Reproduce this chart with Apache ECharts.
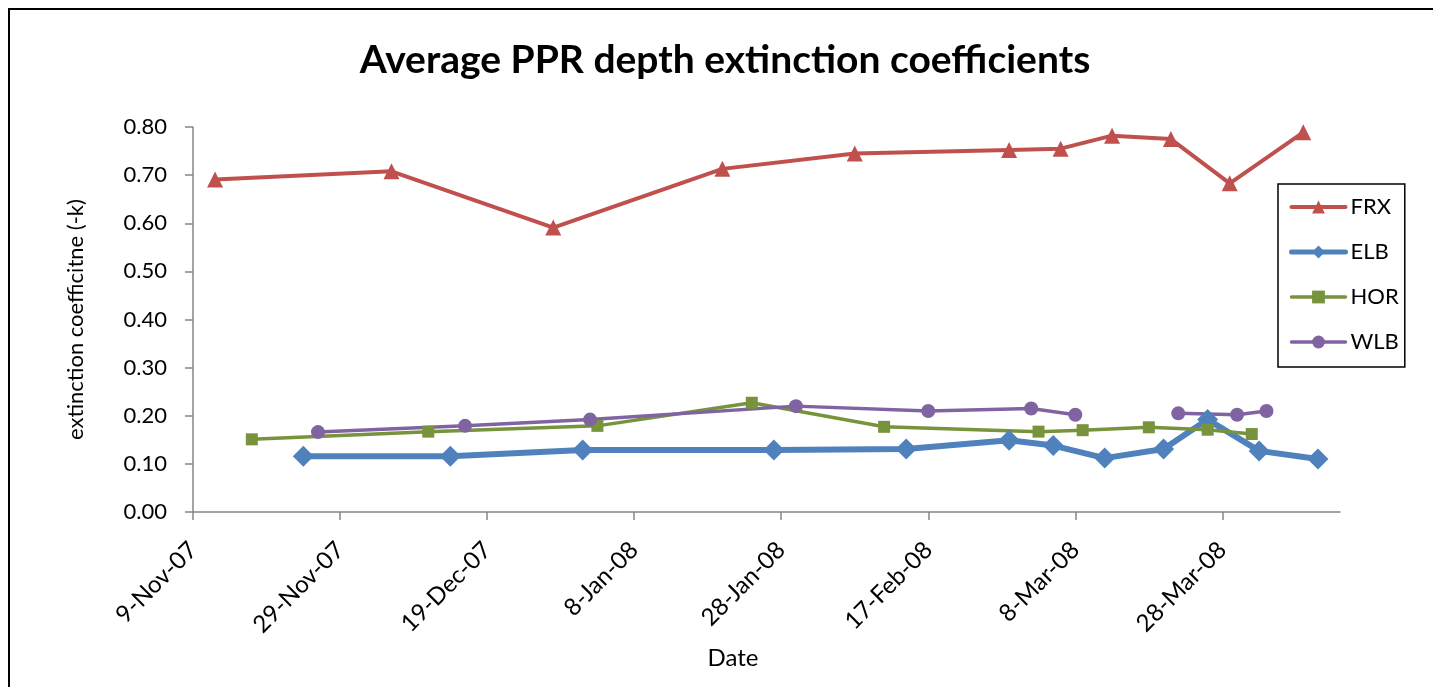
<!DOCTYPE html>
<html>
<head>
<meta charset="utf-8">
<script src="https://cdn.jsdelivr.net/npm/echarts@6/dist/echarts.min.js"></script>
<style>
html,body{margin:0;padding:0;background:#fff;}
#chart{width:1433px;height:687px;}
</style>
</head>
<body>
<div id="chart"></div>
<script>
// ---- data ----
const titleText = 'Average PPR depth extinction coefficients';
const xAxisName = 'Date';
const yAxisName = 'extinction coefficitne (-k)';
const xTickLabels = ['9-Nov-07','29-Nov-07','19-Dec-07','8-Jan-08','28-Jan-08','17-Feb-08','8-Mar-08','28-Mar-08'];
const yTickLabels = ['0.00','0.10','0.20','0.30','0.40','0.50','0.60','0.70','0.80'];
const axisStart = '2007-11-09';
const axisEnd = '2008-04-13';

const frxDates = ['2007-11-12','2007-12-06','2007-12-28','2008-01-20','2008-02-07','2008-02-28','2008-03-06','2008-03-13','2008-03-21','2008-03-29','2008-04-08'];
const frxValues = [0.691,0.708,0.591,0.713,0.745,0.752,0.755,0.782,0.775,0.683,0.789];

const elbDates = ['2007-11-24','2007-12-14','2008-01-01','2008-01-27','2008-02-14','2008-02-28','2008-03-05','2008-03-12','2008-03-20','2008-03-26','2008-04-02','2008-04-10'];
const elbValues = [0.116,0.116,0.129,0.129,0.131,0.149,0.138,0.112,0.131,0.192,0.127,0.110];

const horDates = ['2007-11-17','2007-12-11','2008-01-03','2008-01-24','2008-02-11','2008-03-03','2008-03-09','2008-03-18','2008-03-26','2008-04-01'];
const horValues = [0.151,0.167,0.179,0.227,0.177,0.167,0.170,0.176,0.171,0.162];

const wlbDates = ['2007-11-26','2007-12-16','2008-01-02','2008-01-30','2008-02-17','2008-03-02','2008-03-08','2008-03-15','2008-03-22','2008-03-30','2008-04-03'];
const wlbValues = [0.166,0.179,0.192,0.220,0.210,0.215,0.202,null,0.205,0.202,0.210];

// ---- helpers ----
const DAY = 86400000;
function utc(s){ const p = s.split('-').map(Number); return Date.UTC(p[0], p[1]-1, p[2]); }
const origin = utc(axisStart);
function dayIndex(s){ return Math.round((utc(s) - origin) / DAY); }
function pairs(dates, vals){ return dates.map((d,i)=>[dayIndex(d), vals[i] === null ? '-' : vals[i]]); }

const FONT = 'Lato, "Open Sans", sans-serif';
const axisGray = '#868686';
const tickStep = 20;
const tickValues = xTickLabels.map((_, i) => i * tickStep);

const colors = { FRX: '#C0504D', ELB: '#4F81BD', HOR: '#77933C', WLB: '#8064A2' };

const chart = echarts.init(document.getElementById('chart'));
chart.setOption({
  backgroundColor: '#ffffff',
  animation: false,
  graphic: [
    { type: 'rect', shape: { x: 9, y: 9, width: 1440, height: 700 }, style: { fill: 'none', stroke: '#000', lineWidth: 2 }, silent: true, z: -1 },
    { type: 'text', x: 725, y: 60, style: { text: titleText, fill: '#000', font: 'bold 39px ' + FONT, align: 'center', verticalAlign: 'middle' } },
    { type: 'text', x: 733, y: 658, style: { text: xAxisName, fill: '#000', font: '24px ' + FONT, align: 'center', verticalAlign: 'middle' } }
  ],
  grid: { left: 193, right: 93, top: 127, bottom: 175, containLabel: false },
  legend: {
    orient: 'vertical',
    left: 1278, top: 184,
    padding: [12, 6, 14, 11],
    itemWidth: 54, itemHeight: 16, itemGap: 23,
    borderColor: '#000', borderWidth: 1.5,
    textStyle: { fontFamily: FONT, fontSize: 22, color: '#000', lineHeight: 22 },
    data: [
      { name: 'FRX', lineStyle: { width: 4 } },
      { name: 'ELB', lineStyle: { width: 5 } },
      { name: 'HOR', lineStyle: { width: 3.5 } },
      { name: 'WLB', lineStyle: { width: 3.5 } }
    ]
  },
  xAxis: {
    type: 'value',
    min: 0, max: dayIndex(axisEnd), interval: tickStep,
    axisLine: { lineStyle: { color: axisGray, width: 1.5 } },
    axisTick: { show: true, length: 8, lineStyle: { color: axisGray, width: 1.5 }, customValues: tickValues },
    axisLabel: {
      rotate: 45, margin: 34, fontFamily: FONT, fontSize: 24, color: '#000',
      customValues: tickValues,
      formatter: v => (v % tickStep === 0 && xTickLabels[v / tickStep]) ? xTickLabels[v / tickStep] : ''
    },
    splitLine: { show: false }
  },
  yAxis: {
    type: 'value',
    min: 0, max: 0.8, interval: 0.1,
    name: yAxisName, nameLocation: 'middle', nameGap: 106, nameRotate: 90,
    nameTextStyle: { fontFamily: FONT, fontSize: 22, color: '#000' },
    axisLine: { show: true, lineStyle: { color: axisGray, width: 1.5 } },
    axisTick: { show: true, length: 8, lineStyle: { color: axisGray, width: 1.5 } },
    axisLabel: { margin: 26, fontFamily: FONT, fontSize: 22, color: '#000',
      formatter: v => yTickLabels[Math.round(v * 10)] },
    splitLine: { show: false }
  },
  series: [
    { name: 'FRX', type: 'line', data: pairs(frxDates, frxValues), color: colors.FRX,
      symbol: 'triangle', symbolSize: 16, showAllSymbol: true,
      lineStyle: { width: 4, cap: 'round', join: 'round' }, itemStyle: { color: colors.FRX } },
    { name: 'ELB', type: 'line', data: pairs(elbDates, elbValues), color: colors.ELB,
      symbol: 'diamond', symbolSize: 21, showAllSymbol: true,
      lineStyle: { width: 6, cap: 'round', join: 'round' }, itemStyle: { color: colors.ELB } },
    { name: 'HOR', type: 'line', data: pairs(horDates, horValues), color: colors.HOR,
      symbol: 'rect', symbolSize: 12, showAllSymbol: true,
      lineStyle: { width: 3.5, cap: 'round', join: 'round' }, itemStyle: { color: colors.HOR } },
    { name: 'WLB', type: 'line', data: pairs(wlbDates, wlbValues), color: colors.WLB,
      symbol: 'circle', symbolSize: 14, showAllSymbol: true, connectNulls: false,
      lineStyle: { width: 3.5, cap: 'round', join: 'round' }, itemStyle: { color: colors.WLB } }
  ]
});
</script>
</body>
</html>
